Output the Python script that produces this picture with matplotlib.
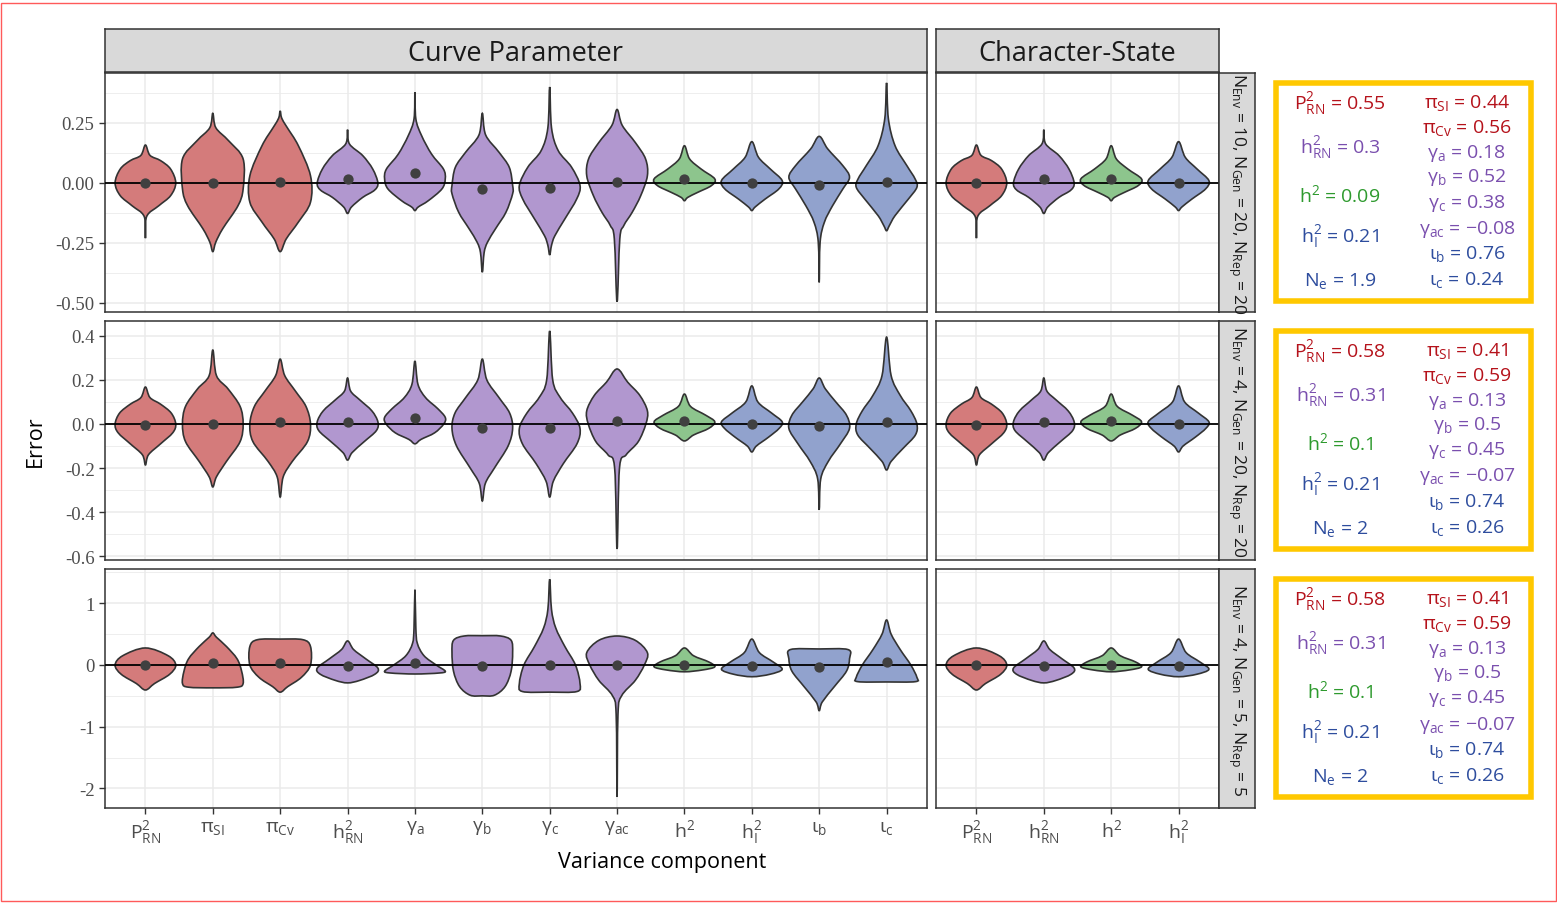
import matplotlib
matplotlib.use("Agg")
import matplotlib.pyplot as plt
import numpy as np
from matplotlib.path import Path
from matplotlib.patches import PathPatch, Rectangle

plt.rcParams['font.family'] = ['Open Sans', 'DejaVu Sans']
plt.rcParams['mathtext.fontset'] = 'custom'
plt.rcParams['mathtext.rm'] = 'Open Sans'
plt.rcParams['mathtext.it'] = 'Open Sans:italic'
plt.rcParams['mathtext.bf'] = 'Open Sans:bold'

# ---------------- data ----------------
categories = [r'$\mathrm{P}^{2}_{\mathrm{RN}}$', r'$\mathrm{\pi}_{\mathrm{SI}}$', r'$\mathrm{\pi}_{\mathrm{Cv}}$',
              r'$\mathrm{h}^{2}_{\mathrm{RN}}$', r'$\mathrm{\gamma}_{\mathrm{a}}$', r'$\mathrm{\gamma}_{\mathrm{b}}$',
              r'$\mathrm{\gamma}_{\mathrm{c}}$', r'$\mathrm{\gamma}_{\mathrm{ac}}$', r'$\mathrm{h}^{2}$',
              r'$\mathrm{h}^{2}_{\mathrm{I}}$', r'$\mathrm{\iota}_{\mathrm{b}}$', r'$\mathrm{\iota}_{\mathrm{c}}$']
groups = ['P', 'P', 'P', 'G', 'G', 'G', 'G', 'G', 'H', 'I', 'I', 'I']
cs_index = [0, 3, 8, 9]   # Character-State components
row_labels = [r'$\mathrm{N}_{\mathrm{Env}}$ = 10, $\mathrm{N}_{\mathrm{Gen}}$ = 20, $\mathrm{N}_{\mathrm{Rep}}$ = 20',
              r'$\mathrm{N}_{\mathrm{Env}}$ = 4, $\mathrm{N}_{\mathrm{Gen}}$ = 20, $\mathrm{N}_{\mathrm{Rep}}$ = 20',
              r'$\mathrm{N}_{\mathrm{Env}}$ = 4, $\mathrm{N}_{\mathrm{Gen}}$ = 5, $\mathrm{N}_{\mathrm{Rep}}$ = 5']

# violin outlines: (error value, relative half-width) from bottom tip to top tip
violins_row1 = [
    [(-0.23, 0), (-0.14, 0.04), (-0.095, 0.44), (-0.053, 0.83), (0.0, 1.0), (0.058, 0.83), (0.093, 0.5), (0.115, 0.15), (0.158, 0)],
    [(-0.286, 0), (-0.246, 0.1), (-0.19, 0.33), (-0.095, 0.83), (-0.025, 1.0), (0.1, 1.0), (0.176, 0.52), (0.23, 0.1), (0.29, 0)],
    [(-0.286, 0), (-0.233, 0.2), (-0.163, 0.6), (-0.08, 1.0), (0.03, 1.0), (0.155, 0.6), (0.233, 0.22), (0.27, 0.05), (0.30, 0)],
    [(-0.127, 0), (-0.1, 0.13), (-0.06, 0.5), (-0.03, 0.89), (0.0, 1.0), (0.058, 0.83), (0.114, 0.5), (0.163, 0.06), (0.222, 0)],
    [(-0.115, 0), (-0.1, 0.11), (-0.074, 0.44), (-0.025, 0.89), (0.017, 1.0), (0.058, 0.94), (0.12, 0.55), (0.197, 0.22), (0.267, 0.03), (0.378, 0)],
    [(-0.372, 0), (-0.29, 0.06), (-0.247, 0.17), (-0.19, 0.44), (-0.122, 0.78), (-0.045, 1.0), (-0.01, 1.0), (0.065, 0.89), (0.128, 0.55), (0.2, 0.11), (0.29, 0)],
    [(-0.30, 0), (-0.26, 0.06), (-0.22, 0.17), (-0.15, 0.5), (-0.067, 0.89), (-0.01, 1.0), (0.066, 0.72), (0.135, 0.28), (0.23, 0.06), (0.40, 0)],
    [(-0.495, 0), (-0.233, 0.09), (-0.178, 0.22), (-0.122, 0.5), (-0.053, 0.78), (0.03, 1.0), (0.1, 0.94), (0.167, 0.61), (0.24, 0.17), (0.306, 0)],
    [(-0.074, 0), (-0.06, 0.11), (-0.039, 0.44), (-0.011, 0.89), (0.017, 1.0), (0.058, 0.55), (0.1, 0.17), (0.155, 0)],
    [(-0.115, 0), (-0.1, 0.11), (-0.067, 0.44), (-0.025, 0.89), (0.01, 1.0), (0.058, 0.61), (0.107, 0.22), (0.172, 0)],
    [(-0.414, 0), (-0.247, 0.03), (-0.164, 0.17), (-0.095, 0.44), (-0.025, 0.78), (0.024, 1.0), (0.072, 0.78), (0.142, 0.28), (0.194, 0)],
    [(-0.199, 0), (-0.178, 0.09), (-0.136, 0.28), (-0.067, 0.72), (-0.018, 1.0), (0.017, 0.94), (0.072, 0.67), (0.155, 0.28), (0.267, 0.06), (0.417, 0)],
]
violins_row2 = [
    [(-0.186, 0), (-0.14, 0.1), (-0.09, 0.5), (-0.04, 0.9), (0.0, 1.0), (0.05, 0.85), (0.09, 0.5), (0.12, 0.15), (0.168, 0)],
    [(-0.286, 0), (-0.24, 0.12), (-0.17, 0.45), (-0.08, 0.9), (0.0, 1.0), (0.08, 0.9), (0.16, 0.5), (0.22, 0.12), (0.336, 0)],
    [(-0.332, 0), (-0.24, 0.1), (-0.17, 0.4), (-0.08, 0.9), (0.0, 1.0), (0.08, 0.85), (0.15, 0.5), (0.22, 0.15), (0.295, 0)],
    [(-0.164, 0), (-0.13, 0.15), (-0.08, 0.55), (-0.03, 0.95), (0.01, 1.0), (0.06, 0.8), (0.11, 0.4), (0.15, 0.1), (0.209, 0)],
    [(-0.09, 0), (-0.07, 0.2), (-0.04, 0.65), (0.0, 0.95), (0.03, 1.0), (0.07, 0.75), (0.12, 0.35), (0.18, 0.1), (0.286, 0)],
    [(-0.35, 0), (-0.27, 0.1), (-0.2, 0.4), (-0.1, 0.85), (-0.02, 1.0), (0.05, 0.9), (0.12, 0.55), (0.2, 0.15), (0.295, 0)],
    [(-0.332, 0), (-0.26, 0.12), (-0.18, 0.45), (-0.09, 0.9), (-0.02, 1.0), (0.05, 0.75), (0.12, 0.35), (0.2, 0.1), (0.423, 0)],
    [(-0.568, 0), (-0.2, 0.08), (-0.14, 0.3), (-0.08, 0.7), (0.0, 0.95), (0.06, 1.0), (0.13, 0.75), (0.19, 0.35), (0.25, 0)],
    [(-0.077, 0), (-0.05, 0.3), (-0.02, 0.8), (0.01, 1.0), (0.04, 0.7), (0.08, 0.2), (0.136, 0)],
    [(-0.127, 0), (-0.1, 0.15), (-0.06, 0.55), (-0.02, 0.9), (0.01, 1.0), (0.05, 0.65), (0.1, 0.2), (0.173, 0)],
    [(-0.39, 0), (-0.25, 0.05), (-0.17, 0.3), (-0.09, 0.7), (-0.02, 1.0), (0.04, 0.9), (0.1, 0.55), (0.16, 0.2), (0.209, 0)],
    [(-0.209, 0), (-0.17, 0.15), (-0.11, 0.55), (-0.05, 0.95), (0.0, 1.0), (0.06, 0.8), (0.13, 0.45), (0.22, 0.15), (0.395, 0)],
]
violins_row3 = [
    [(-0.405, 0), (-0.3, 0.3), (-0.15, 0.8), (0.0, 1.0), (0.15, 0.75), (0.276, 0)],
    [(-0.37, 0), (-0.36, 0.8), (-0.3, 1.0), (-0.1, 0.95), (0.1, 0.8), (0.3, 0.45), (0.45, 0.12), (0.52, 0)],
    [(-0.44, 0), (-0.35, 0.25), (-0.2, 0.7), (0.0, 1.0), (0.3, 1.0), (0.41, 0.75), (0.42, 0)],
    [(-0.29, 0), (-0.25, 0.4), (-0.15, 0.9), (-0.05, 1.0), (0.1, 0.6), (0.25, 0.2), (0.39, 0)],
    [(-0.146, 0), (-0.13, 0.8), (-0.1, 1.0), (0.0, 0.7), (0.15, 0.3), (0.35, 0.08), (0.6, 0.03), (1.22, 0)],
    [(-0.5, 0), (-0.49, 0.4), (-0.35, 0.75), (-0.1, 0.95), (0.2, 1.0), (0.4, 0.95), (0.47, 0.6), (0.475, 0)],
    [(-0.44, 0), (-0.43, 0.9), (-0.3, 1.0), (0.0, 0.85), (0.3, 0.5), (0.6, 0.2), (0.9, 0.06), (1.39, 0)],
    [(-2.14, 0), (-0.8, 0.03), (-0.5, 0.15), (-0.25, 0.6), (0.0, 0.9), (0.2, 1.0), (0.4, 0.6), (0.47, 0)],
    [(-0.11, 0), (-0.08, 0.6), (-0.03, 1.0), (0.05, 0.8), (0.15, 0.3), (0.276, 0)],
    [(-0.19, 0), (-0.15, 0.6), (-0.07, 1.0), (0.05, 0.7), (0.2, 0.25), (0.42, 0)],
    [(-0.74, 0), (-0.6, 0.1), (-0.35, 0.5), (-0.1, 0.9), (0.1, 1.0), (0.25, 0.95), (0.26, 0)],
    [(-0.275, 0), (-0.27, 0.95), (-0.2, 1.0), (0.0, 0.8), (0.25, 0.45), (0.5, 0.15), (0.73, 0)],
]
means_row1 = [0.0, 0.0, 0.006, 0.017, 0.04, -0.025, -0.02, 0.003, 0.017, 0.0, -0.008, 0.006]
means_row2 = [-0.003, 0.0, 0.01, 0.009, 0.027, -0.018, -0.018, 0.014, 0.014, 0.0, -0.009, 0.009]
means_row3 = [0.0, 0.03, 0.03, -0.01, 0.03, -0.02, -0.005, 0.0, 0.0, -0.01, -0.03, 0.05]

yticks_rows = [[-0.50, -0.25, 0.00, 0.25], [-0.6, -0.4, -0.2, 0.0, 0.2, 0.4], [-2, -1, 0, 1]]
yticklabels_rows = [['-0.50', '-0.25', '0.00', '0.25'], ['-0.6', '-0.4', '-0.2', '0.0', '0.2', '0.4'], ['-2', '-1', '0', '1']]
yminor_rows = [[-0.375, -0.125, 0.125, 0.375], [-0.5, -0.3, -0.1, 0.1, 0.3], [-1.5, -0.5, 0.5, 1.5]]
ylims = [(-0.5375, 0.458), (-0.618, 0.468), (-2.318, 1.556)]

# annotation boxes (left column, right column), per row
box_left_vals = [['0.55', '0.3', '0.09', '0.21', '1.9'],
                 ['0.58', '0.31', '0.1', '0.21', '2'],
                 ['0.58', '0.31', '0.1', '0.21', '2']]
box_right_vals = [['0.44', '0.56', '0.18', '0.52', '0.38', '\u22120.08', '0.76', '0.24'],
                  ['0.41', '0.59', '0.13', '0.5', '0.45', '\u22120.07', '0.74', '0.26'],
                  ['0.41', '0.59', '0.13', '0.5', '0.45', '\u22120.07', '0.74', '0.26']]
box_left_names = [r'$\mathrm{P}^{2}_{\mathrm{RN}}$', r'$\mathrm{h}^{2}_{\mathrm{RN}}$', r'$\mathrm{h}^{2}$',
                  r'$\mathrm{h}^{2}_{\mathrm{I}}$', r'$\mathrm{N}_{\mathrm{e}}$']
box_left_groups = ['P', 'G', 'H', 'I', 'I']
box_right_names = [r'$\mathrm{\pi}_{\mathrm{SI}}$', r'$\mathrm{\pi}_{\mathrm{Cv}}$', r'$\mathrm{\gamma}_{\mathrm{a}}$',
                   r'$\mathrm{\gamma}_{\mathrm{b}}$', r'$\mathrm{\gamma}_{\mathrm{c}}$', r'$\mathrm{\gamma}_{\mathrm{ac}}$',
                   r'$\mathrm{\iota}_{\mathrm{b}}$', r'$\mathrm{\iota}_{\mathrm{c}}$']
box_right_groups = ['P', 'P', 'G', 'G', 'G', 'G', 'I', 'I']

# ---------------- styles ----------------
fill_colors = {'P': '#D47B7B', 'G': '#B197CF', 'H': '#8DC58D', 'I': '#91A2CD'}
text_colors = {'P': '#B5121B', 'G': '#7A4FAE', 'H': '#2E9A2E', 'I': '#2E4D9E'}
EDGE = '#333333'
GRID = '#EBEBEB'

W, H = 1557, 904
fig = plt.figure(figsize=(W / 100, H / 100), dpi=100)


def fx(px):
    return px / W


def fy(py):
    return 1 - py / H


def violin(ax, xc, knots, color, halfmax=0.45):
    ys = [k[0] for k in knots]
    ws = [k[1] * halfmax for k in knots]
    right = [(xc + w, y) for y, w in zip(ys, ws)]
    left = [(xc - w, y) for y, w in zip(ys[::-1], ws[::-1])]
    P = np.array(right + left[1:-1], dtype=float)
    n = len(P)
    verts = [P[0]]
    codes = [Path.MOVETO]
    for i in range(n):
        p0, p1, p2, p3 = P[i - 1], P[i], P[(i + 1) % n], P[(i + 2) % n]
        c1 = p1 + (p2 - p0) / 6.0
        c2 = p2 - (p3 - p1) / 6.0
        verts += [c1, c2, p2]
        codes += [Path.CURVE4] * 3
    verts.append(P[0])
    codes.append(Path.CLOSEPOLY)
    patch = PathPatch(Path(verts, codes), facecolor=color, edgecolor=EDGE, lw=1.2, zorder=3)
    ax.add_patch(patch)


row_violins = [violins_row1, violins_row2, violins_row3]
row_means = [means_row1, means_row2, means_row3]
row_top = [74, 322, 570]
panel_h = 239
cp_x0, cp_x1 = 105, 927
cs_x0, cs_x1 = 936, 1219

for r in range(3):
    bottom = fy(row_top[r] + panel_h)
    hfrac = panel_h / H
    ax_cp = fig.add_axes([fx(cp_x0), bottom, fx(cp_x1 - cp_x0), hfrac])
    ax_cs = fig.add_axes([fx(cs_x0), bottom, fx(cs_x1 - cs_x0), hfrac])
    for ax, idxs in ((ax_cp, list(range(12))), (ax_cs, cs_index)):
        ax.set_xlim(0.4, len(idxs) + 0.6)
        ax.set_ylim(*ylims[r])
        ax.set_yticks(yticks_rows[r])
        ax.set_yticks(yminor_rows[r], minor=True)
        ax.set_xticks(np.arange(1, len(idxs) + 1))
        ax.grid(which='major', color=GRID, lw=1.1, zorder=0)
        ax.grid(which='minor', axis='y', color=GRID, lw=0.6, zorder=0)
        ax.set_axisbelow(True)
        for s in ax.spines.values():
            s.set_color(EDGE)
            s.set_linewidth(1.1)
        for j, ci in enumerate(idxs):
            violin(ax, j + 1, row_violins[r][ci], fill_colors[groups[ci]])
        ax.axhline(0, color='black', lw=1.3, zorder=4)
        ax.scatter(np.arange(1, len(idxs) + 1), [row_means[r][ci] for ci in idxs],
                   s=55, color='#404040', zorder=5, linewidths=0)
        ax.tick_params(which='both', direction='out', color=EDGE, length=4, width=1.0,
                       labelsize=12, labelcolor='#4D4D4D')
        ax.tick_params(which='minor', length=0)
        if r == 2:
            ax.set_xticklabels([categories[ci] for ci in idxs], fontsize=14)
        else:
            ax.tick_params(axis='x', length=0, labelbottom=False)
    ax_cp.set_yticklabels(yticklabels_rows[r], family='Liberation Serif', fontsize=13.5)
    ax_cs.tick_params(axis='y', length=0, labelleft=False)
    # right strip
    st = fig.add_axes([fx(1219), bottom, fx(1255 - 1219), hfrac])
    st.set_facecolor('#D9D9D9')
    st.set_xticks([]); st.set_yticks([])
    for s in st.spines.values():
        s.set_color(EDGE); s.set_linewidth(1.1)
    st.text(0.5, 0.5, row_labels[r], rotation=-90, ha='center', va='center',
            fontsize=12.5, color='#1A1A1A', transform=st.transAxes)

    # annotation box
    off = 248 * r
    fig.patches.append(Rectangle((fx(1276), fy(302 + off)), fx(1531 - 1276), (302 - 84) / H,
                                 transform=fig.transFigure, fill=False, edgecolor='#FFC800', lw=4.0))
    left_y = [104, 148, 195, 237, 281]
    right_y = [103, 128, 153, 178, 203, 229, 254, 280]
    for k in range(5):
        fig.text(fx(1340), fy(left_y[k] + off), box_left_names[k] + ' = ' + box_left_vals[r][k],
                 ha='center', va='center', fontsize=14, color=text_colors[box_left_groups[k]])
    for k in range(8):
        fig.text(fx(1467), fy(right_y[k] + off), box_right_names[k] + ' = ' + box_right_vals[r][k],
                 ha='center', va='center', fontsize=14, color=text_colors[box_right_groups[k]])

# top strips
for x0, x1, lab in ((cp_x0, cp_x1, 'Curve Parameter'), (cs_x0, cs_x1, 'Character-State')):
    st = fig.add_axes([fx(x0), fy(73), fx(x1 - x0), 43 / H])
    st.set_facecolor('#D9D9D9')
    st.set_xticks([]); st.set_yticks([])
    for s in st.spines.values():
        s.set_color(EDGE); s.set_linewidth(1.1)
    st.text(0.5, 0.45, lab, ha='center', va='center', fontsize=19.5, color='#1A1A1A', transform=st.transAxes)

fig.text(fx(35), fy(441), 'Error', rotation=90, ha='center', va='center', fontsize=15.5, color='black')
fig.text(fx(662), fy(863), 'Variance component', ha='center', va='center', fontsize=15.5, color='black')

# outer frame
fig.patches.append(Rectangle((fx(0.5), fy(902)), fx(1555.5), 898 / H, transform=fig.transFigure,
                             fill=False, edgecolor='#FF5A5A', lw=1.0))

fig.savefig('out.png', dpi=100)
